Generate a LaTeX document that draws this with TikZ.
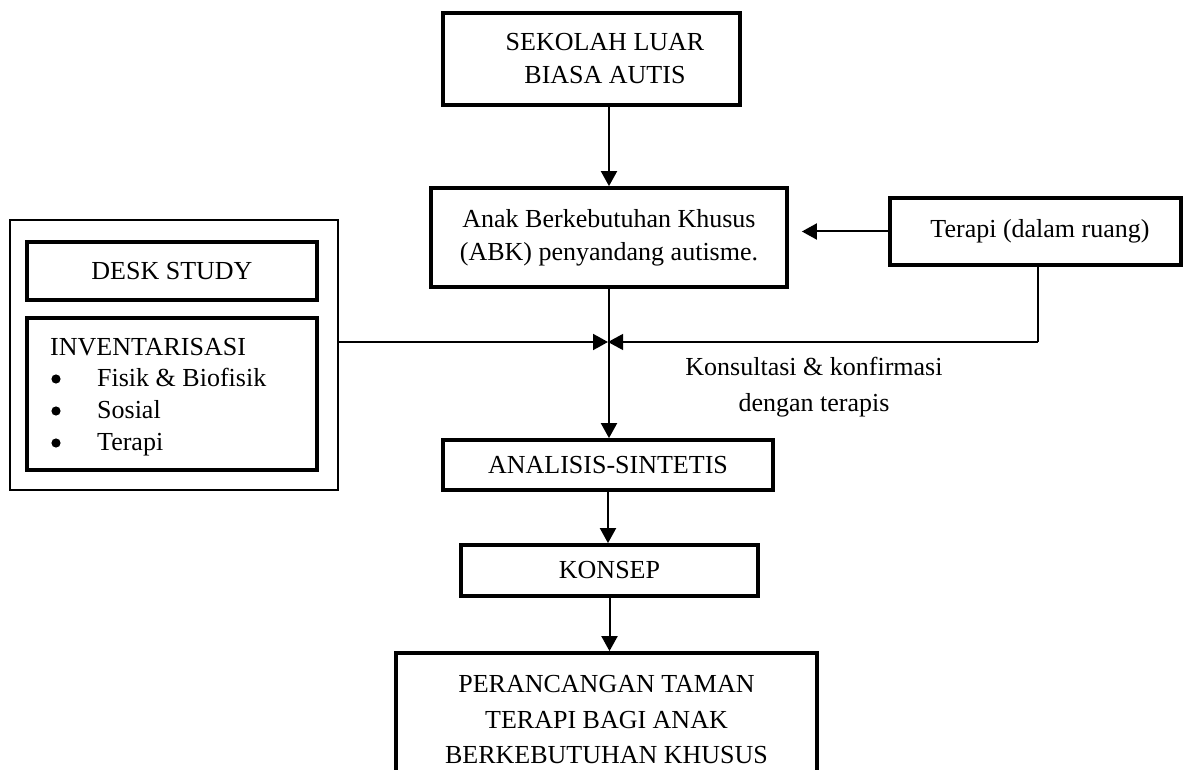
\documentclass[tikz,border=0pt]{standalone}
\usepackage{fontspec}
\setmainfont{Liberation Serif}
\usetikzlibrary{arrows.meta}
\tikzset{
  box/.style={draw, line width=3.8pt, inner sep=0pt, align=center, font=\fontsize{26}{33}\selectfont},
  txt/.style={inner sep=0pt, align=center, font=\fontsize{26}{33}\selectfont},
  arr/.style={line width=2pt, -{Triangle[length=15pt,width=16pt]}},
  thinline/.style={line width=1.2pt},
  bul/.style={fill=black},
}
\begin{document}
\begin{tikzpicture}[x=1pt,y=-1pt]
\useasboundingbox (0,0) rectangle (1184,770);
\clip (0,0) rectangle (1184,770);

% top box
\node[box, minimum width=297pt, minimum height=92pt] (sek) at (591.5,59) {};
\node[txt] (sektxt) at (605,59) {SEKOLAH LUAR\\BIASA AUTIS};

% ABK
\node[box, minimum width=356pt, minimum height=99pt] (abk) at (609,237.5) {Anak Berkebutuhan Khusus\\(ABK) penyandang autisme.};

% Terapi
\node[box, minimum width=291pt, minimum height=67pt] (ter) at (1035.5,231.5) {};
\node[txt] (tertxt) at (1040,231.5) {Terapi (dalam ruang)};

% left group
\node[draw, line width=1.3pt, minimum width=328pt, minimum height=270pt, inner sep=0pt] (left) at (174,355) {};
\node[box, minimum width=290pt, minimum height=58pt] (desk) at (172,271) {DESK STUDY};
\node[box, minimum width=290pt, minimum height=152pt] (inv) at (172,394) {};
\node[txt, align=left, anchor=west, font=\fontsize{26}{31.7}\selectfont] (invtxt) at (50,397)
  {INVENTARISASI\\\hspace*{47pt}Fisik \& Biofisik\\\hspace*{47pt}Sosial\\\hspace*{47pt}Terapi};
\fill[bul] (56,379) circle (4.6pt);
\fill[bul] (56,411) circle (4.6pt);
\fill[bul] (56,443) circle (4.6pt);

% lower chain
\node[box, minimum width=330pt, minimum height=50pt] (ana) at (608,465) {ANALISIS-SINTETIS};
\node[box, minimum width=297pt, minimum height=51pt] (kon) at (609.5,570.5) {KONSEP};
\node[box, minimum width=421pt, minimum height=134pt, font=\fontsize{26}{35.5}\selectfont] (per) at (606.5,720)
  {PERANCANGAN TAMAN\\TERAPI BAGI ANAK\\BERKEBUTUHAN KHUSUS};

% label
\node[txt, font=\fontsize{26}{36}\selectfont] (kons) at (814,387) {Konsultasi \& konfirmasi\\dengan terapis};

% connectors
\coordinate (j) at (608,342);
\coordinate (tc) at (1038,342);
\draw[arr] (abk.north |- sek.south) -- (abk.north);
\draw[arr, shorten >=13pt] (ter.west) -- (ter.west -| abk.east);
\draw[arr] (abk.south) -- (abk.south |- ana.north);
\draw[arr] (left.east |- j) -- (j);
\draw[thinline] (tc |- ter.south) -- (tc);
\draw[line width=1.2pt, -{Triangle[length=15pt,width=16pt]}] (tc) -- (j);
\draw[arr] (ana.south) -- (ana.south |- kon.north);
\draw[arr] (kon.south) -- (kon.south |- per.north);
\end{tikzpicture}
\end{document}
